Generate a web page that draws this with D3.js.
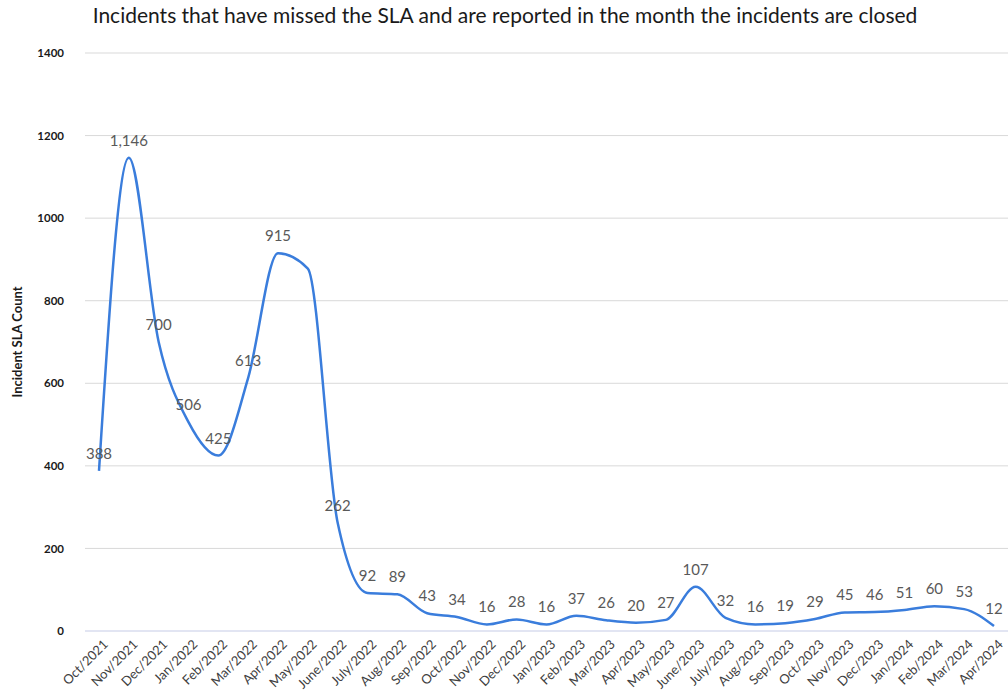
<!DOCTYPE html>
<html>
<head>
<meta charset="utf-8">
<script src="https://cdn.jsdelivr.net/npm/d3@7"></script>
<style>
  html, body { margin: 0; padding: 0; background: #fff; }
  svg { display: block; }
</style>
</head>
<body>
<svg id="chart" width="1008" height="696"></svg>
<script>
const months = ["Oct/2021","Nov/2021","Dec/2021","Jan/2022","Feb/2022","Mar/2022","Apr/2022","May/2022","June/2022","July/2022","Aug/2022","Sep/2022","Oct/2022","Nov/2022","Dec/2022","Jan/2023","Feb/2023","Mar/2023","Apr/2023","May/2023","June/2023","July/2023","Aug/2023","Sep/2023","Oct/2023","Nov/2023","Dec/2023","Jan/2024","Feb/2024","Mar/2024","Apr/2024"];
const counts = [388,1146,700,506,425,613,915,878,262,92,89,43,34,16,28,16,37,26,20,27,107,32,16,19,29,45,46,51,60,53,12];
const hiddenLabels = ["May/2022"];
const yTicks = [0,200,400,600,800,1000,1200,1400];
const titleText = "Incidents that have missed the SLA and are reported in the month the incidents are closed";
const yTitle = "Incident SLA Count";

const font = "Lato, 'Open Sans', sans-serif";
const svg = d3.select("#chart");

const x = d3.scalePoint().domain(months).range([99, 994]);
const y = d3.scaleLinear().domain([0, 1400]).range([631, 53]);

// title
svg.append("text")
  .attr("x", 505).attr("y", 23)
  .attr("text-anchor", "middle")
  .attr("font-family", font).attr("font-size", 21)
  .attr("fill", "#1a1a1a")
  .text(titleText);

// gridlines
svg.append("g").selectAll("line").data(yTicks).join("line")
  .attr("x1", 85).attr("x2", 1008)
  .attr("y1", d => y(d)).attr("y2", d => y(d))
  .attr("stroke", d => d === 0 ? "#c5cbe6" : "#d9d9d9")
  .attr("stroke-width", 1);

// y axis tick labels
const yAxis = d3.axisLeft(y).tickValues(yTicks).tickFormat(d3.format("d")).tickSize(0).tickPadding(0);
const gy = svg.append("g").attr("transform", "translate(64,0)").call(yAxis);
gy.select(".domain").remove();
gy.selectAll("text")
  .attr("font-family", font).attr("font-size", 11.5).attr("font-weight", "bold")
  .attr("fill", "#1a1a1a");

// y axis title
svg.append("text")
  .attr("transform", "translate(22,342) rotate(-90)")
  .attr("text-anchor", "middle")
  .attr("font-family", font).attr("font-size", 13).attr("font-weight", "bold")
  .attr("fill", "#1a1a1a")
  .text(yTitle);

// x axis labels
const xAxis = d3.axisBottom(x).tickSize(0).tickPadding(0);
const gx = svg.append("g").attr("transform", "translate(0,640)").call(xAxis);
gx.select(".domain").remove();
gx.selectAll("text")
  .attr("font-family", font).attr("font-size", 13)
  .attr("fill", "#404040")
  .attr("text-anchor", "end")
  .attr("transform", "translate(6,2) rotate(-45)")
  .attr("dy", "0.35em").attr("y", 0).attr("x", 0);

// line
const data = months.map((m, i) => ({ m, v: counts[i] }));
const line = d3.line().x(d => x(d.m)).y(d => y(d.v)).curve(d3.curveMonotoneX);
svg.append("path").datum(data)
  .attr("d", line)
  .attr("fill", "none")
  .attr("stroke", "#3a7ddc")
  .attr("stroke-width", 2.5)
  .attr("stroke-linejoin", "round");

// data labels
const fmt = d3.format(",");
svg.append("g").selectAll("text").data(data.filter(d => !hiddenLabels.includes(d.m))).join("text")
  .attr("x", d => x(d.m)).attr("y", d => y(d.v) - 12)
  .attr("text-anchor", "middle")
  .attr("font-family", font).attr("font-size", 15)
  .attr("fill", "#595959")
  .text(d => fmt(d.v));
</script>
</body>
</html>
